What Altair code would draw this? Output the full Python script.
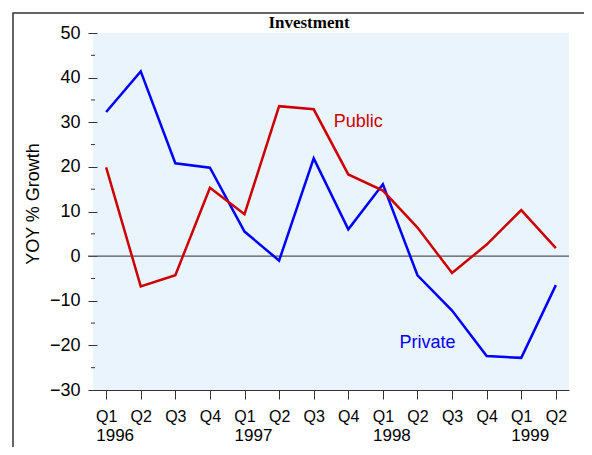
import altair as alt
import pandas as pd

quarters = ["Q1", "Q2", "Q3", "Q4", "Q1", "Q2", "Q3", "Q4", "Q1", "Q2", "Q3", "Q4", "Q1", "Q2"]
years = [1996, 1996, 1996, 1996, 1997, 1997, 1997, 1997, 1998, 1998, 1998, 1998, 1999, 1999]
private = [32.3, 41.4, 20.8, 19.8, 5.5, -1.0, 21.9, 6.0, 16.1, -4.3, -12.2, -22.4, -22.8, -6.5]
public = [19.9, -6.8, -4.3, 15.3, 9.4, 33.6, 32.9, 18.3, 14.7, 6.4, -3.8, 2.6, 10.3, 1.8]
series_names = ["Private", "Public"]
series_colors = ["#0000ff", "#cc0000"]
y_major = [-30, -20, -10, 0, 10, 20, 30, 40, 50]
y_minor = [-25, -15, -5, 5, 15, 25, 35, 45]
year_labels = ["1996", "1997", "1998", "1999"]
label_text = ["Public", "Private"]
label_period = ["1997 Q4", "1998 Q2"]
label_value = [30.0, -19.5]
chart_title = "Investment"
y_title = "YOY % Growth"

periods = [f"{y} {q}" for y, q in zip(years, quarters)]

df = pd.DataFrame({
    "period": periods * 2,
    "series": ["Private"] * len(periods) + ["Public"] * len(periods),
    "value": private + public,
})
years_df = pd.DataFrame({"period": [p for p in periods if p.endswith("Q1")], "year": year_labels})
labels_df = pd.DataFrame({"period": label_period, "value": label_value, "text": label_text,
                          "series": ["Public", "Private"]})
minor_df = pd.DataFrame({"value": y_minor})
zero_df = pd.DataFrame({"value": [0]})
one = pd.DataFrame({"a": [0]})

W, H = 476, 357
FONT = "Liberation Sans"

xenc = alt.X(
    "period:N",
    scale=alt.Scale(type="point", domain=periods, padding=0.38),
    axis=alt.Axis(
        title=None, labelExpr="split(datum.label, ' ')[1]", labelAngle=0,
        labelFont=FONT, labelFontSize=16, labelColor="#000", labelPadding=9,
        tickSize=9, tickColor="#333", domainColor="#333", domainWidth=1, grid=False,
    ),
)
yenc = alt.Y(
    "value:Q",
    scale=alt.Scale(domain=[-30, 50], nice=False, zero=False),
    axis=alt.Axis(
        title=None, values=y_major, tickSize=9, offset=-4, domain=False, grid=False,
        labelFont=FONT, labelFontSize=18, labelColor="#000", labelPadding=8,
        tickColor="#333",
    ),
)
color = alt.Color("series:N", scale=alt.Scale(domain=series_names, range=series_colors), legend=None)

frame = alt.Chart(one).mark_rect(fill="transparent", stroke="#333", strokeWidth=1.5).encode(
    x=alt.value(-80), x2=alt.value(700), y=alt.value(-20), y2=alt.value(600)
)
zero = alt.Chart(zero_df).mark_rule(color="#555", strokeWidth=1.3).encode(
    y=yenc, x=alt.value(-5), x2=alt.value(W)
)
minor = alt.Chart(minor_df).mark_rule(color="#333", strokeWidth=1).encode(
    y=yenc, x=alt.value(-2), x2=alt.value(2)
)
lines = alt.Chart(df).mark_line(strokeWidth=2.5).encode(x=xenc, y=yenc, color=color)
labels = alt.Chart(labels_df).mark_text(font=FONT, fontSize=18, align="center", baseline="middle", dx=10).encode(
    x=xenc, y=yenc, text="text:N", color=color
)
year_text = alt.Chart(years_df).mark_text(font=FONT, fontSize=17, color="#000", align="center",
                                          baseline="alphabetic", dx=9).encode(
    x=xenc, y=alt.value(H + 51), text="year:N"
)
title_text = alt.Chart(one).mark_text(text=chart_title, font="Liberation Serif", fontWeight="bold",
                                      fontSize=17, color="#000", align="center",
                                      baseline="alphabetic").encode(
    x=alt.value(216), y=alt.value(-5)
)
ytitle_text = alt.Chart(one).mark_text(text=y_title, font=FONT, fontSize=18, color="#000", angle=270,
                                       align="center", baseline="middle").encode(
    x=alt.value(-59), y=alt.value(171)
)

chart = alt.layer(frame, zero, minor, lines, labels, year_text, title_text, ytitle_text).properties(
    width=W, height=H,
    autosize=alt.AutoSizeParams(type="none"),
    padding={"left": 85, "top": 25, "right": 15, "bottom": 57},
).configure_view(fill="#eaf4fd", stroke=None)

chart.save("out.html", embed_options={"renderer": "svg", "actions": False})
